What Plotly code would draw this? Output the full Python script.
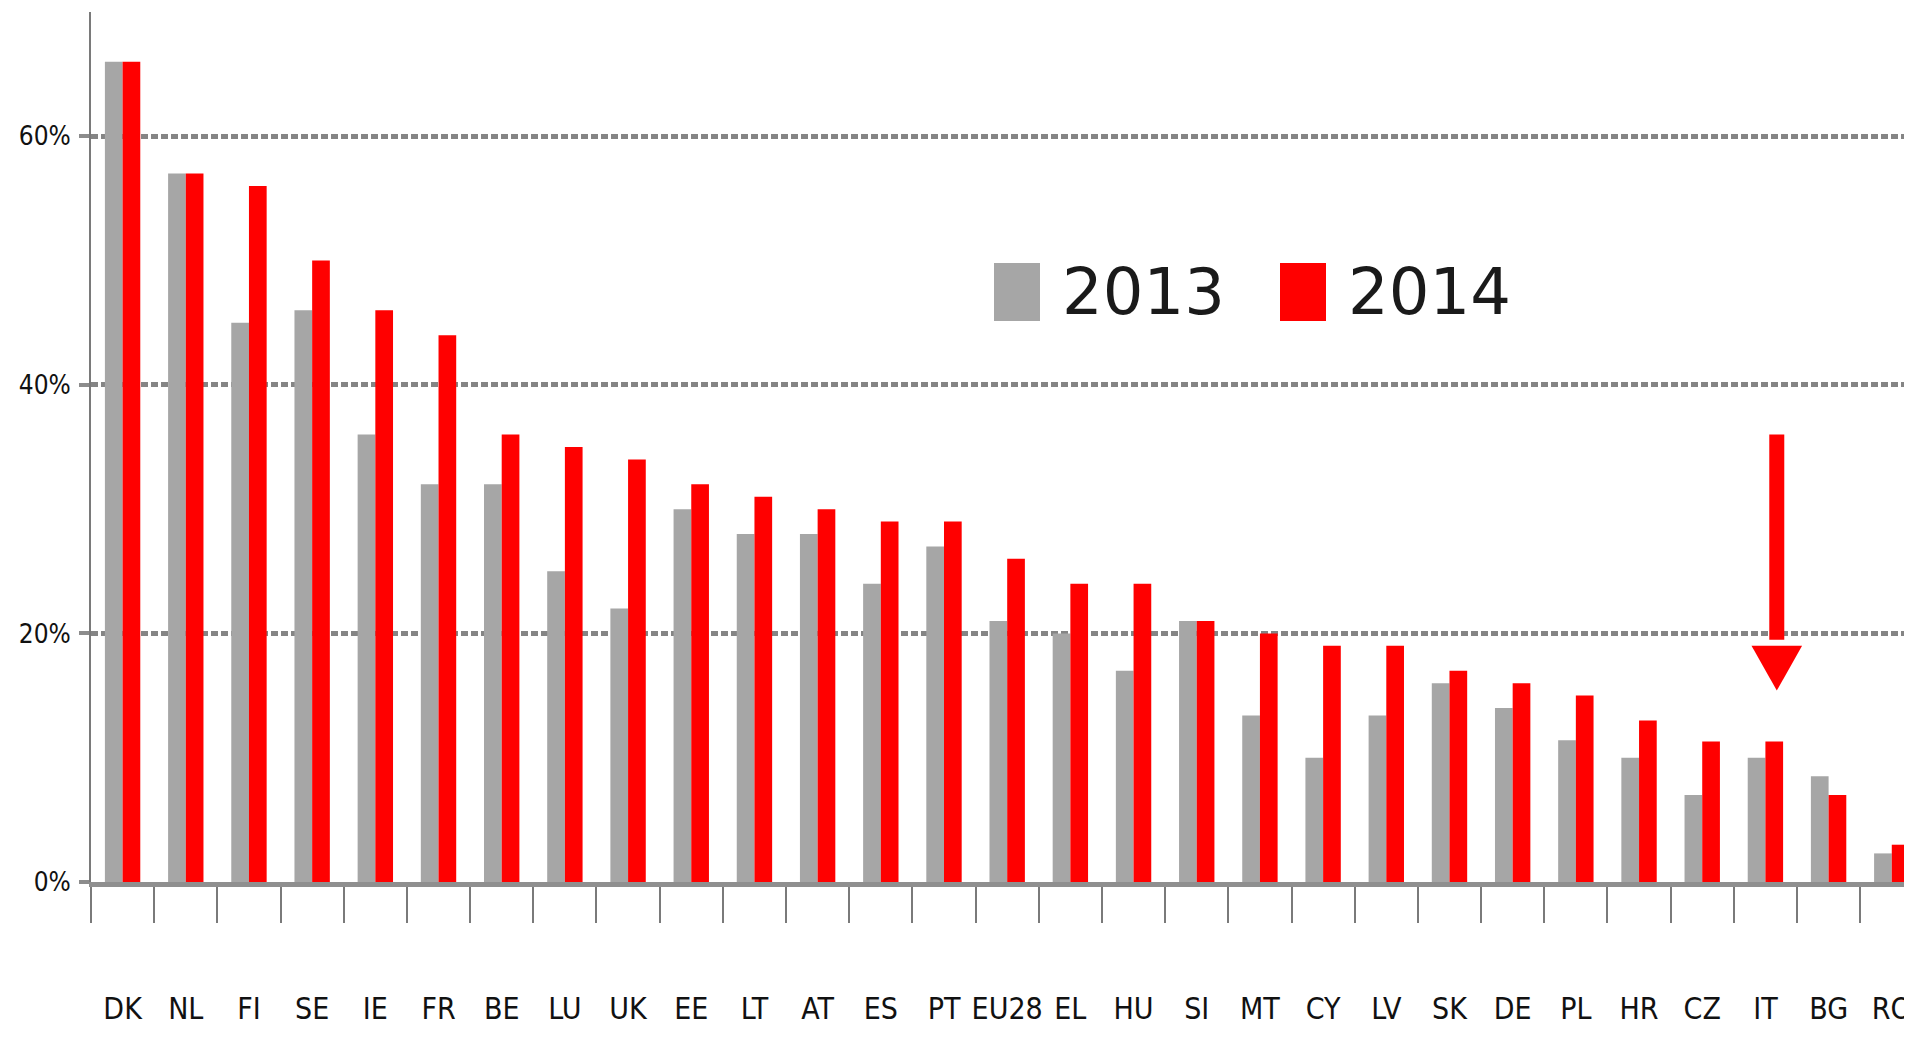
import plotly.graph_objects as go

countries = ["DK", "NL", "FI", "SE", "IE", "FR", "BE", "LU", "UK", "EE", "LT", "AT", "ES", "PT",
             "EU28", "EL", "HU", "SI", "MT", "CY", "LV", "SK", "DE", "PL", "HR", "CZ", "IT", "BG", "RO"]
share_2013 = [66, 57, 45, 46, 36, 32, 32, 25, 22, 30, 28, 28, 24, 27,
              21, 20, 17, 21, 13.4, 10, 13.4, 16, 14, 11.4, 10, 7, 10, 8.5, 2.3]
share_2014 = [66, 57, 56, 50, 46, 44, 36, 35, 34, 32, 31, 30, 29, 29,
              26, 24, 24, 21, 20, 19, 19, 17, 16, 15, 13, 11.3, 11.3, 7, 3]
y_ticks = [0, 20, 40, 60]

GREY = "#a6a6a6"
RED = "#ff0000"
LABEL_FONT = "Liberation Sans Narrow, DejaVu Sans Condensed, Roboto Condensed, Roboto, sans-serif"

fig = go.Figure()
fig.add_trace(go.Bar(x=countries, y=share_2013, name="2013", marker_color=GREY, marker_line_width=0))
fig.add_trace(go.Bar(x=countries, y=share_2014, name="2014", marker_color=RED, marker_line_width=0))

# page body has an 8px margin, so the figure is laid out 8px up/left of the screenshot
OFF = 8
W, H = 1912 - OFF, 1047 - OFF
L, T, B = 91 - OFF, 12 - OFF, 1047 - 882
plot_w, plot_h = W - L, H - T - B

# legend drawn by hand so the swatches can be as large as in the original
legend_items = [("2013", GREY, 994, 1060), ("2014", RED, 1280, 1346)]
for label, color, sx, tx in legend_items:
    fig.add_shape(type="rect", xref="paper", yref="paper",
                  x0=(sx - 91) / plot_w, x1=(sx + 46 - 91) / plot_w,
                  y0=(882 - 321) / plot_h, y1=(882 - 263) / plot_h,
                  fillcolor=color, line_width=0)
    fig.add_annotation(text=label, xref="paper", yref="paper",
                       x=(tx - 91) / plot_w, y=(882 - 292) / plot_h,
                       xanchor="left", yanchor="middle", showarrow=False,
                       font=dict(family="DejaVu Sans, Verdana, sans-serif", size=64, color="#1a1a1a"))

# red arrow pointing at IT
arrow_x, arrow_top, arrow_base, arrow_tip, head_half = 26.18, 36.0, 19.0, 15.4, 0.4
fig.add_shape(type="line", x0=arrow_x, x1=arrow_x, y0=arrow_top, y1=arrow_base + 0.5,
              line=dict(color=RED, width=15))
fig.add_shape(type="path",
              path=f"M {arrow_x - head_half} {arrow_base} L {arrow_x + head_half} {arrow_base} "
                   f"L {arrow_x} {arrow_tip} Z",
              fillcolor=RED, line_width=0)

fig.update_layout(
    width=W,
    height=H,
    barmode="group",
    bargap=0.44,
    bargroupgap=0,
    showlegend=False,
    plot_bgcolor="white",
    paper_bgcolor="white",
    margin=dict(l=L, r=0, t=T, b=B),
)
fig.update_xaxes(
    type="category",
    range=[-0.5, 28.32],
    automargin=False,
    showline=True, linecolor="#8f8f8f", linewidth=5,
    ticks="outside", tickson="boundaries", ticklen=36, tickwidth=2, tickcolor="#7a7a7a",
    ticklabelstandoff=96,
    tickangle=0,
    tickfont=dict(family=LABEL_FONT, size=30, color="#111"),
    showgrid=False,
)
fig.update_yaxes(
    range=[0, 70],
    automargin=False,
    tickvals=y_ticks,
    ticktext=[f"{v}%" for v in y_ticks],
    showline=True, linecolor="#7a7a7a", linewidth=2,
    ticks="outside", ticklen=10, tickwidth=4, tickcolor="#8c8c8c",
    ticklabelstandoff=3,
    tickfont=dict(family=LABEL_FONT, size=26, color="#111"),
    showgrid=True, gridcolor="#858585", gridwidth=5, griddash="7px,3px",
    zeroline=False,
)

fig.write_html("out.html")
